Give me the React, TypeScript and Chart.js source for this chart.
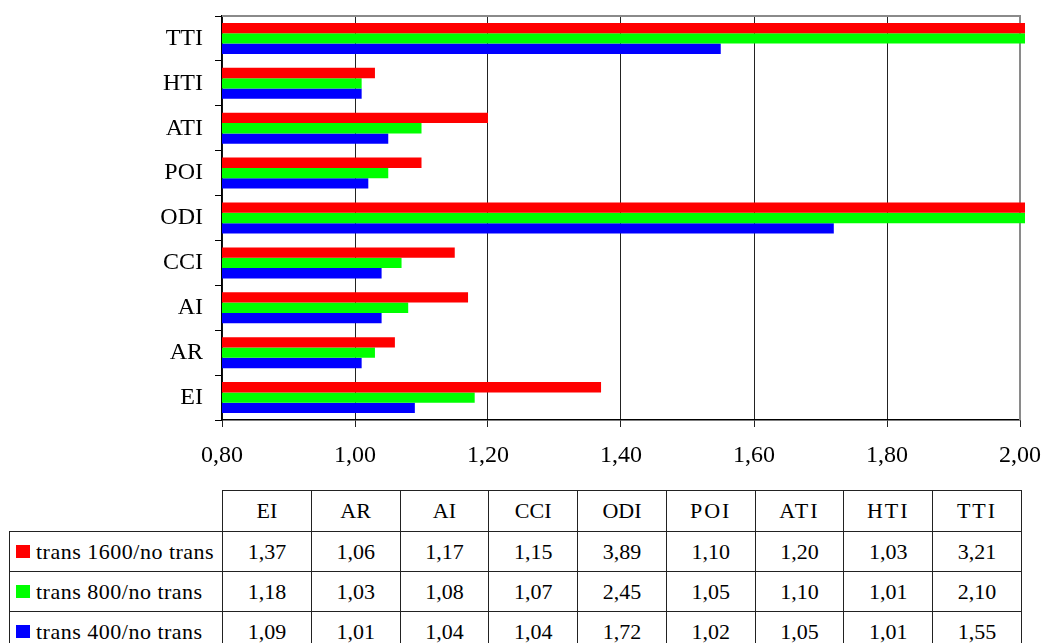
import React, { useEffect, useRef } from 'react';
import { Chart, registerables } from 'chart.js';

Chart.register(...registerables);

const categories = ['EI', 'AR', 'AI', 'CCI', 'ODI', 'POI', 'ATI', 'HTI', 'TTI'];
const seriesNames = ['trans 1600/no trans', 'trans 800/no trans', 'trans 400/no trans'];
const trans1600 = [1.37, 1.06, 1.17, 1.15, 3.89, 1.1, 1.2, 1.03, 3.21];
const trans800 = [1.18, 1.03, 1.08, 1.07, 2.45, 1.05, 1.1, 1.01, 2.1];
const trans400 = [1.09, 1.01, 1.04, 1.04, 1.72, 1.02, 1.05, 1.01, 1.55];
const seriesColors = ['#FF0000', '#00FF00', '#0000FF'];
const xTicks = [0.8, 1.0, 1.2, 1.4, 1.6, 1.8, 2.0];
const spacedHeaders = ['POI', 'ATI', 'HTI', 'TTI'];

const series = [trans1600, trans800, trans400];
const fmt = (v: number) => Number(v).toFixed(2).replace('.', ',');
const FONT = '"Liberation Serif", "Times New Roman", serif';

const framePlugin = {
  id: 'frame',
  beforeDatasetsDraw(chart: any) {
    const { ctx, chartArea } = chart;
    ctx.save();
    ctx.strokeStyle = '#8a8a8a';
    ctx.lineWidth = 2;
    ctx.beginPath();
    ctx.moveTo(chartArea.left, chartArea.top);
    ctx.lineTo(chartArea.right, chartArea.top);
    ctx.lineTo(chartArea.right, chartArea.bottom);
    ctx.stroke();
    ctx.restore();
  },
};

function BarChart() {
  const ref = useRef<HTMLCanvasElement | null>(null);
  useEffect(() => {
    if (!ref.current) return;
    const labels = [...categories].reverse();
    const chart = new Chart(ref.current, {
      type: 'bar',
      data: {
        labels,
        datasets: series.map((vals, i) => ({
          label: seriesNames[i],
          data: [...vals].reverse(),
          backgroundColor: seriesColors[i],
          borderWidth: 0,
          barPercentage: 1,
          categoryPercentage: 0.69,
          clip: { left: 0, top: 0, bottom: 0, right: 5 } as any,
        })),
      },
      options: {
        indexAxis: 'y',
        responsive: false,
        animation: false,
        devicePixelRatio: 1,
        layout: { padding: { left: 0, right: 23, top: 16, bottom: 0 } },
        plugins: { legend: { display: false }, tooltip: { enabled: false } },
        scales: {
          x: {
            type: 'linear',
            min: 0.8,
            max: 2.0,
            afterBuildTicks: (s: any) => {
              s.ticks = xTicks.map((v) => ({ value: v }));
            },
            afterFit: (s: any) => {
              s.height = 60;
              s.paddingLeft = 0;
              s.paddingRight = 0;
            },
            ticks: {
              callback: (v: any) => fmt(v),
              font: { family: FONT, size: 24 },
              color: '#000',
              padding: 14,
              maxRotation: 0,
              autoSkip: false,
            },
            grid: { color: '#222', lineWidth: 1, tickLength: 7, drawTicks: true },
            border: { color: '#000', width: 1.5 },
          },
          y: {
            type: 'category',
            afterFit: (s: any) => {
              s.width = 222;
              s.paddingTop = 0;
              s.paddingBottom = 0;
            },
            ticks: { font: { family: FONT, size: 24 }, color: '#000', padding: 12 },
            grid: { drawOnChartArea: false, color: '#000', tickLength: 7, offset: true },
            border: { color: '#000', width: 1.5 },
          },
        },
      } as any,
      plugins: [framePlugin],
    });
    return () => chart.destroy();
  }, []);
  return (
    <canvas
      ref={ref}
      width={1043}
      height={480}
      style={{ position: 'absolute', left: 0, top: 0, width: 1043, height: 480, display: 'block' }}
    />
  );
}

function DataTable() {
  const border = '1px solid #222';
  const cell: React.CSSProperties = {
    border,
    textAlign: 'center',
    padding: 0,
    fontFamily: FONT,
    fontSize: 22,
    color: '#000',
  };
  const colW = (1021 - 222) / 9;
  return (
    <table
      style={{
        position: 'absolute',
        left: 9,
        top: 490,
        width: 1012,
        borderCollapse: 'collapse',
        tableLayout: 'fixed',
      }}
    >
      <colgroup>
        <col style={{ width: 213 }} />
        {categories.map((c) => (
          <col key={c} style={{ width: colW }} />
        ))}
      </colgroup>
      <tbody>
        <tr style={{ height: 41 }}>
          <td style={{ border: 'none', padding: 0 }} />
          {categories.map((c) => (
            <td
              key={c}
              style={{ ...cell, letterSpacing: spacedHeaders.includes(c) ? 2 : 0 }}
            >
              {c}
            </td>
          ))}
        </tr>
        {series.map((vals, i) => (
          <tr key={i} style={{ height: i === 2 ? 41 : 40 }}>
            <td style={{ ...cell, textAlign: 'left', paddingLeft: 6, whiteSpace: 'nowrap', letterSpacing: 0.5 }}>
              <span
                style={{
                  display: 'inline-block',
                  width: 14,
                  height: 13,
                  background: seriesColors[i],
                  marginRight: 6,
                  verticalAlign: 'middle',
                  position: 'relative',
                  top: -2,
                }}
              />
              {seriesNames[i]}
            </td>
            {vals.map((v, j) => (
              <td key={j} style={cell}>
                {fmt(v)}
              </td>
            ))}
          </tr>
        ))}
      </tbody>
    </table>
  );
}

export default function App() {
  return (
    <div
      style={{
        position: 'fixed',
        left: 0,
        top: 0,
        width: 1043,
        height: 643,
        overflow: 'hidden',
        background: '#fff',
      }}
    >
      <BarChart />
      <DataTable />
    </div>
  );
}
